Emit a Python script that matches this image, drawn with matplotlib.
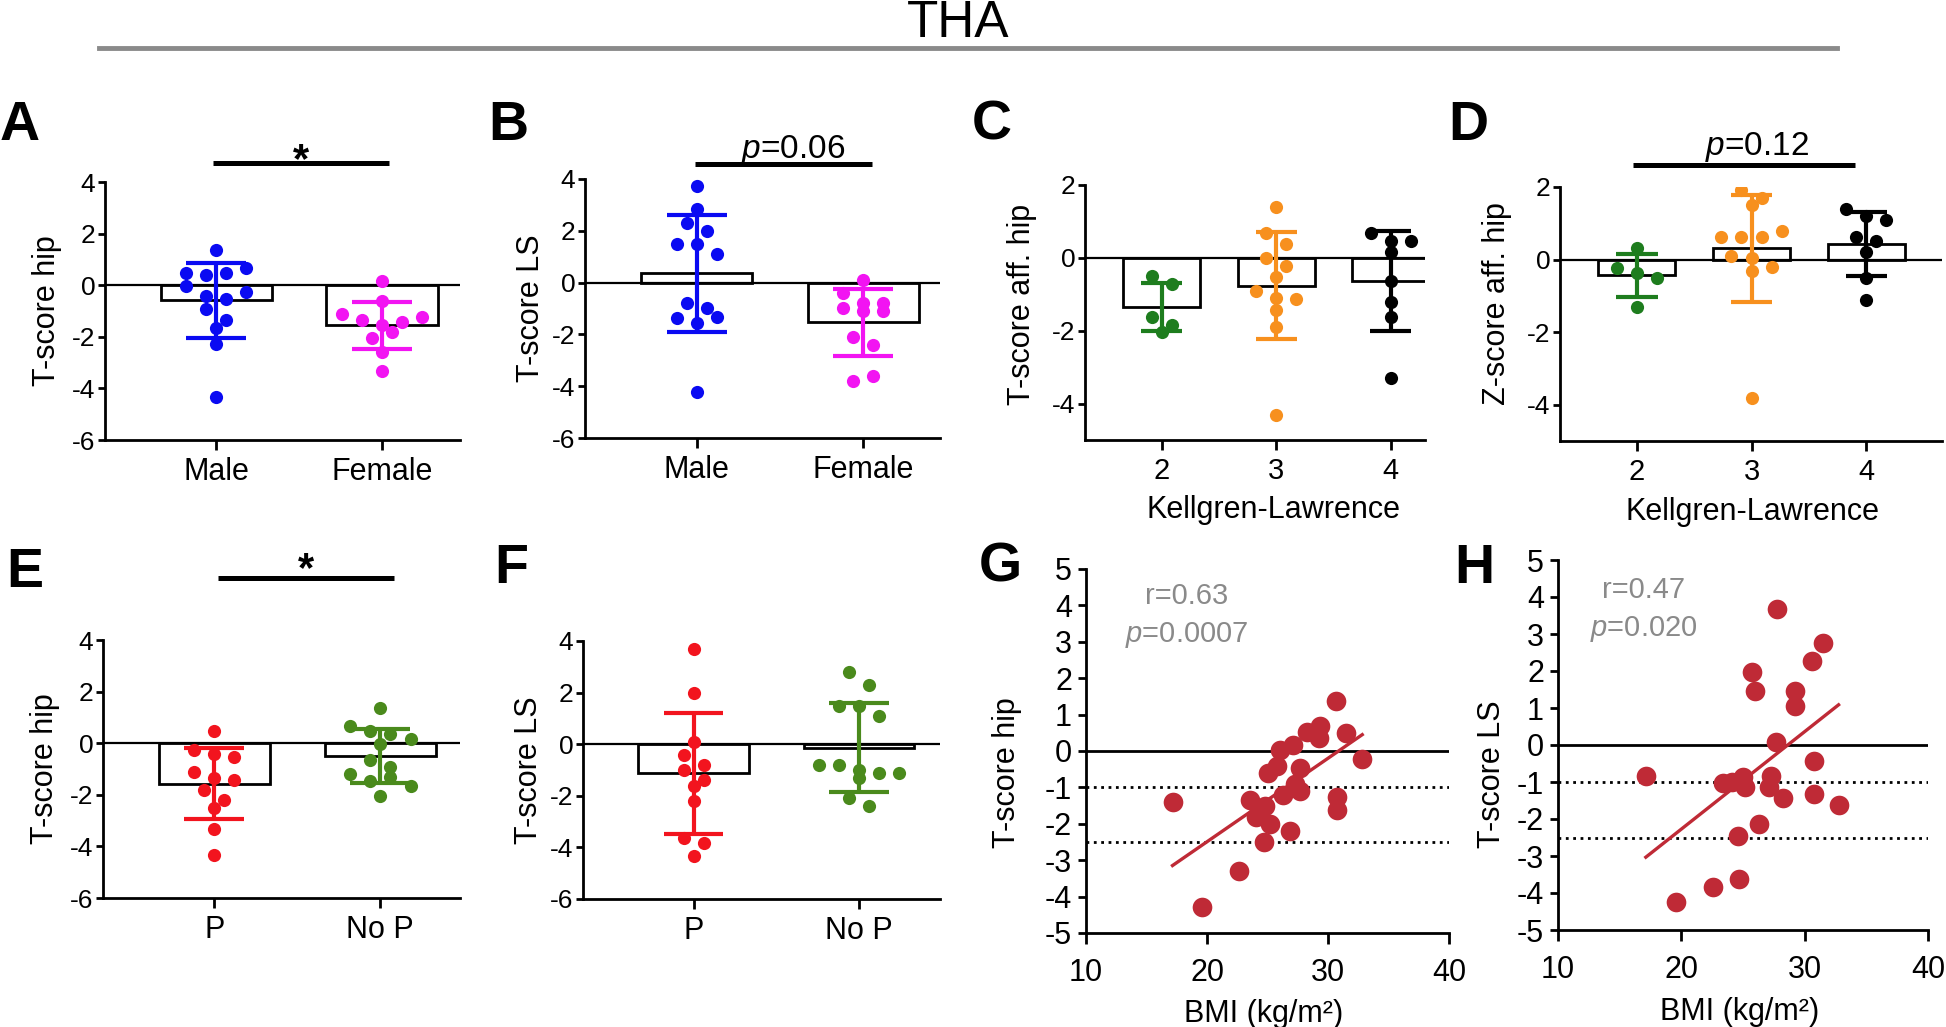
import numpy as np
import matplotlib
matplotlib.use('Agg')
import matplotlib.pyplot as plt
from matplotlib.lines import Line2D

plt.rcParams['font.family'] = ['Liberation Sans', 'DejaVu Sans']
plt.rcParams['axes.unicode_minus'] = False
plt.rcParams['mathtext.fontset'] = 'custom'
plt.rcParams['mathtext.rm'] = 'Liberation Sans'
plt.rcParams['mathtext.it'] = 'Liberation Sans:italic'

W, H = 1946, 1027

# ---------------- data ----------------
sex_cats = ['Male', 'Female']
pain_cats = ['P', 'No P']
kl_cats = ['2', '3', '4']

# A: T-score hip by sex
hip_male = [1.38, 0.48, 0.39, 0.48, 0.65, -0.04, -0.43, -0.54, -0.26, -0.94, -1.33, -1.64, -2.26, -4.32]
hip_female = [0.17, -0.61, -1.12, -1.33, -1.55, -1.42, -1.23, -2.03, -1.81, -2.58, -3.33]
hip_sex_mean = [-0.58, -1.55]
hip_sex_sd = [1.45, 0.91]

# B: T-score LS by sex
ls_male = [3.72, 2.84, 2.30, 2.01, 1.50, 1.50, 1.10, -0.80, -0.99, -1.38, -1.57, -1.32, -4.22]
ls_female = [0.10, -0.41, -0.77, -0.99, -1.08, -1.08, -0.80, -2.09, -2.41, -3.79, -3.61]
ls_sex_mean = [0.36, -1.54]
ls_sex_sd = [2.25, 1.28]

# C: T-score affected hip by KL grade
t_kl2 = [-0.50, -0.72, -1.62, -1.83, -2.03]
t_kl3 = [1.39, 0.67, 0.38, -0.01, -0.22, -0.52, -0.91, -1.11, -1.13, -1.42, -1.91, -4.32]
t_kl4 = [0.69, 0.47, 0.47, 0.17, -0.63, -1.21, -1.62, -3.31]
t_kl_mean = [-1.36, -0.77, -0.63]
t_kl_sd = [0.66, 1.47, 1.38]

# D: Z-score affected hip by KL grade
z_kl2 = [0.33, -0.22, -0.38, -0.52, -1.30]
z_kl3 = [1.91, 1.70, 1.51, 0.61, 0.61, 0.61, 0.79, 0.10, 0.03, -0.20, -0.31, -3.82]
z_kl4 = [1.40, 1.19, 1.10, 0.63, 0.52, 0.20, -0.52, -1.11]
z_kl_mean = [-0.43, 0.31, 0.42]
z_kl_sd = [0.59, 1.48, 0.88]

# E: T-score hip by pain
hip_p = [0.48, -0.26, -0.41, -0.54, -1.12, -1.33, -1.42, -1.81, -2.22, -2.52, -3.32, -4.32]
hip_nop = [1.38, 0.67, 0.48, 0.36, 0.17, -0.04, -0.65, -0.93, -1.20, -1.48, -1.32, -1.65, -2.03]
hip_pain_mean = [-1.57, -0.49]
hip_pain_sd = [1.37, 1.05]

# F: T-score LS by pain
ls_p = [3.69, 2.00, 0.10, -0.42, -0.81, -1.00, -1.39, -1.62, -2.20, -3.65, -3.82, -4.32]
ls_nop = [2.79, 2.29, 1.49, 1.49, 1.09, -0.81, -0.81, -1.00, -1.10, -1.10, -1.32, -2.10, -2.40]
ls_pain_mean = [-1.13, -0.13]
ls_pain_sd = [2.34, 1.73]

# G: BMI vs T-score hip
bmi_g = [30.63, 17.15, 19.60, 22.63, 23.54, 24.09, 24.77, 24.69, 25.24, 25.05, 25.79, 26.01, 27.11,
         26.29, 27.25, 26.89, 27.72, 27.72, 28.27, 29.31, 29.26, 31.46, 32.83, 30.74, 30.74]
hip_g = [1.38, -1.41, -4.29, -3.31, -1.34, -1.81, -1.52, -2.51, -2.00, -0.60, -0.40, 0.02, 0.17,
         -1.20, -0.92, -2.21, -0.47, -1.09, 0.51, 0.70, 0.36, 0.49, -0.21, -1.27, -1.61]

# H: BMI vs T-score LS
bmi_h = [27.74, 31.45, 30.63, 25.71, 25.98, 29.23, 29.23, 27.65, 30.77, 17.12, 23.40, 24.08,
         25.03, 25.16, 27.25, 27.11, 28.28, 30.77, 32.75, 26.33, 24.57, 22.59, 24.70, 19.56]
ls_h = [3.68, 2.77, 2.27, 1.96, 1.47, 1.47, 1.06, 0.07, -0.43, -0.84, -1.04, -1.01,
        -0.86, -1.13, -0.84, -1.13, -1.42, -1.33, -1.62, -2.14, -2.45, -3.83, -3.62, -4.23]

blue = '#0a0af2'
magenta = '#f214f2'
green = '#1e7d1e'
orange = '#f7901e'
black = '#000000'
red = '#f2141e'
olive = '#4a8a1c'
crimson = '#bf2a36'
gray = '#8a8a8a'

fig = plt.figure(figsize=(W / 100, H / 100), dpi=100)


def box(l, r, t, b):
    return [l / W, 1 - b / H, (r - l) / W, (b - t) / H]


def swarm(ax, xc, vals, d):
    # group dots into rows of similar value and spread each row symmetrically
    tr = ax.transData
    vals = np.asarray(vals, float)
    pts = tr.transform(np.column_stack([np.full(len(vals), float(xc)), vals]))
    rows = []
    for i in np.argsort(-vals, kind='stable'):
        if rows and pts[rows[-1][0], 1] - pts[i, 1] <= d:
            rows[-1].append(i)
        else:
            rows.append([i])
    out = pts.copy()
    step = 1.55 * d
    for row in rows:
        n = len(row)
        for j, i in enumerate(sorted(row)):
            out[i, 0] = pts[i, 0] + (j - (n - 1) / 2) * step
    return tr.inverted().transform(out)[:, 0]


def bar_panel(pos, cats, groups, means, sds, colors, ylim, yticks, ylabel, xpad,
              ylab_xy, xfs=22, xlabel=None, xlab_xy=None):
    ax = fig.add_axes(pos)
    x = np.arange(len(cats))
    ax.set_xlim(-0.67, len(cats) - 1 + xpad)
    ax.set_ylim(*ylim)
    ax.bar(x, means, width=0.67, color='white', edgecolor='black', linewidth=2, zorder=2)
    ax.axhline(0, color='black', lw=1.6, zorder=3)
    for i, (vals, c) in enumerate(zip(groups, colors)):
        xs = swarm(ax, i, vals, 13)
        ax.scatter(xs, vals, s=90, color=c, zorder=4, linewidths=0)
        lo, hi = means[i] - sds[i], means[i] + sds[i]
        ax.vlines(i, lo, hi, color=c, lw=3, zorder=5)
        ax.hlines([lo, hi], i - 0.18, i + 0.18, color=c, lw=3, zorder=5)
    ax.set_xticks(x)
    ax.set_xticklabels(cats)
    ax.set_yticks(yticks)
    for s in ['top', 'right']:
        ax.spines[s].set_visible(False)
    for s in ['left', 'bottom']:
        ax.spines[s].set_linewidth(2)
    ax.tick_params(axis='y', length=5, width=2, labelsize=19, pad=2)
    ax.tick_params(axis='x', length=7, width=2, labelsize=xfs, pad=5)
    ax.set_ylabel(ylabel, fontsize=22)
    ax.yaxis.set_label_coords(*ylab_xy)
    if xlabel:
        ax.set_xlabel(xlabel, fontsize=22)
        ax.xaxis.set_label_coords(*xlab_xy)
    return ax


def sig_bar(ax, x0, x1, y, text, tx, dy, fs, bold=False):
    ax.plot([x0, x1], [y, y], color='black', lw=3.6, clip_on=False, solid_capstyle='butt')
    ax.annotate(text, xy=(tx, y), xytext=(0, dy), textcoords='offset points',
                ha='center', va='baseline', fontsize=fs,
                fontweight='bold' if bold else 'normal', annotation_clip=False)


def scatter_panel(pos, bmi, score, ylabel, ylab_xy, r_txt, p_txt, txt_xy):
    ax = fig.add_axes(pos)
    ax.set_xlim(10, 40)
    ax.set_ylim(-5, 5)
    ax.axhline(0, color='black', lw=2, zorder=1)
    ax.axhline(-1, color='black', lw=2, ls=':', zorder=1)
    ax.axhline(-2.5, color='black', lw=2, ls=':', zorder=1)
    k, b = np.polyfit(bmi, score, 1)
    xf = np.array([min(bmi), max(bmi)])
    ax.plot(xf, k * xf + b, color=crimson, lw=2.4, zorder=2)
    ax.scatter(bmi, score, s=200, color=crimson, zorder=3, linewidths=0)
    ax.set_xticks([10, 20, 30, 40])
    ax.set_yticks(range(-5, 6))
    for s in ['top', 'right']:
        ax.spines[s].set_visible(False)
    for s in ['left', 'bottom']:
        ax.spines[s].set_linewidth(2)
    ax.tick_params(axis='y', length=6, width=2, labelsize=22, pad=4)
    ax.tick_params(axis='x', length=8, width=2, labelsize=22, pad=10)
    ax.set_ylabel(ylabel, fontsize=22)
    ax.yaxis.set_label_coords(*ylab_xy)
    ax.set_xlabel('BMI (kg/m²)', fontsize=22)
    ax.xaxis.set_label_coords(0.49, -0.18)
    ax.text(txt_xy[0], txt_xy[1], r_txt, transform=ax.transAxes, ha='center',
            va='baseline', fontsize=21, color=gray)
    ax.text(txt_xy[0], txt_xy[2], p_txt, transform=ax.transAxes, ha='center',
            va='baseline', fontsize=21, color=gray)
    return ax


# title
fig.text(958 / W, 1 - 37 / H, 'THA', ha='center', va='baseline', fontsize=37)
fig.add_artist(Line2D([99 / W, 1837 / W], [1 - 48 / H, 1 - 48 / H], color=gray, lw=3.5))

# A
axA = bar_panel(box(105, 460, 182, 440), sex_cats, [hip_male, hip_female], hip_sex_mean, hip_sex_sd,
                [blue, magenta], (-6, 4), [4, 2, 0, -2, -4, -6], 'T-score hip', 0.47, (-0.121, 0.5))
sig_bar(axA, -0.02, 1.04, 4.74, '*', 0.51, -6.5, 30, bold=True)

# B
axB = bar_panel(box(585, 940, 179, 438), sex_cats, [ls_male, ls_female], ls_sex_mean, ls_sex_sd,
                [blue, magenta], (-6, 4), [4, 2, 0, -2, -4, -6], 'T-score LS', 0.46, (-0.11, 0.5))
sig_bar(axB, -0.01, 1.05, 4.58, r'$\it{p}$=0.06', 0.58, 4.3, 24)

# C
axC = bar_panel(box(1085, 1425, 185, 440), kl_cats, [t_kl2, t_kl3, t_kl4], t_kl_mean, t_kl_sd,
                [green, orange, black], (-5, 2), [2, 0, -2, -4], 'T-score aff. hip', 0.30,
                (-0.141, 0.533), xfs=21, xlabel='Kellgren-Lawrence', xlab_xy=(0.553, -0.216))

# D
axD = bar_panel(box(1560, 1942, 187, 441), kl_cats, [z_kl2, z_kl3, z_kl4], z_kl_mean, z_kl_sd,
                [green, orange, black], (-5, 2), [2, 0, -2, -4], 'Z-score aff. hip', 0.66,
                (-0.126, 0.54), xfs=21, xlabel='Kellgren-Lawrence', xlab_xy=(0.503, -0.22))
sig_bar(axD, -0.03, 1.90, 2.60, r'$\it{p}$=0.12', 1.05, 7.2, 24)

# E
axE = bar_panel(box(103, 460, 640, 898), pain_cats, [hip_p, hip_nop], hip_pain_mean, hip_pain_sd,
                [red, olive], (-6, 4), [4, 2, 0, -2, -4, -6], 'T-score hip', 0.48, (-0.12, 0.5))
sig_bar(axE, 0.02, 1.08, 6.40, '*', 0.55, -2.5, 30, bold=True)

# F
axF = bar_panel(box(583, 940, 641, 899), pain_cats, [ls_p, ls_nop], ls_pain_mean, ls_pain_sd,
                [red, olive], (-6, 4), [4, 2, 0, -2, -4, -6], 'T-score LS', 0.49, (-0.109, 0.5))

# G, H
scatter_panel(box(1086, 1449, 569, 933), bmi_g, hip_g, 'T-score hip', (-0.176, 0.44),
              'r=0.63', r'$\it{p}$=0.0007', (0.278, 0.904, 0.80))
scatter_panel(box(1558, 1928, 560, 930), bmi_h, ls_h, 'T-score LS', (-0.138, 0.42),
              'r=0.47', r'$\it{p}$=0.020', (0.232, 0.897, 0.795))

# panel letters
letters = [('A', 0, 140), ('B', 488, 140), ('C', 972, 140), ('D', 1448, 140),
           ('E', 6, 587), ('F', 494, 583), ('G', 979, 581), ('H', 1454, 583)]
for lab, lx, ly in letters:
    fig.text(lx / W, 1 - ly / H, lab, fontsize=40, fontweight='bold', ha='left', va='baseline')

plt.savefig('out.png', dpi=100)
plt.close()
